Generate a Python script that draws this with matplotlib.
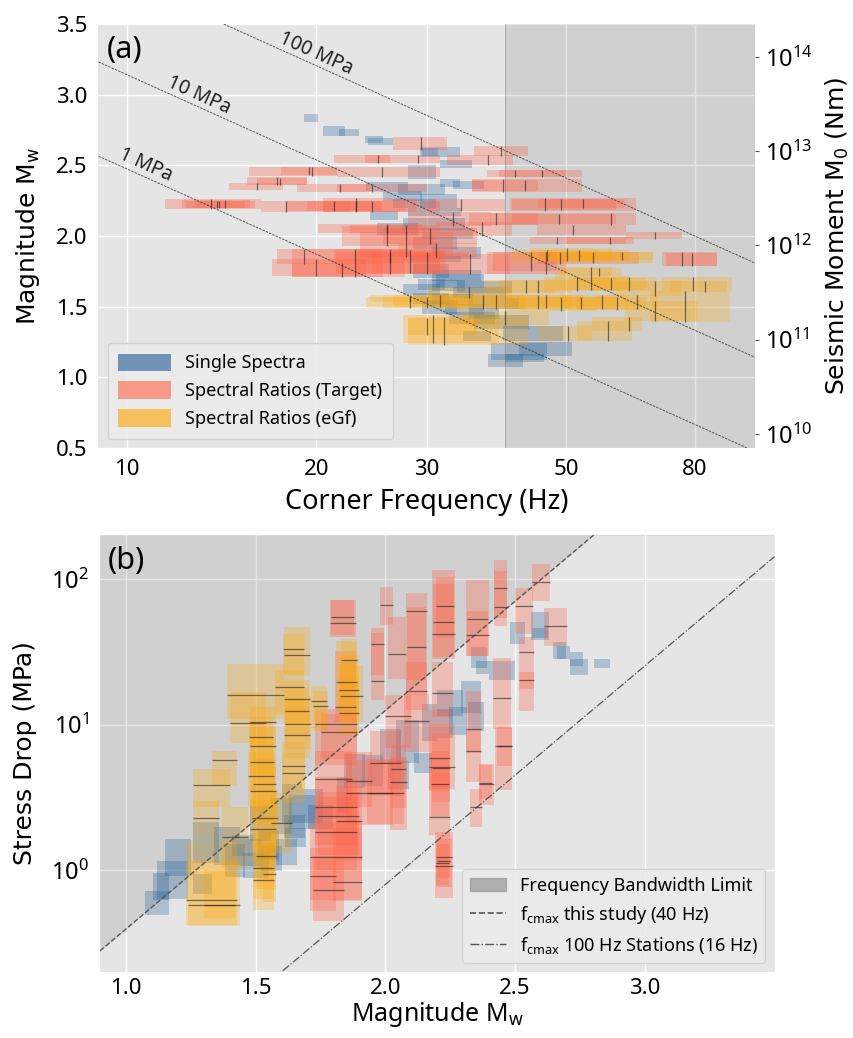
import numpy as np
import matplotlib
matplotlib.use("Agg")
import matplotlib.pyplot as plt
from matplotlib.patches import Patch
from matplotlib.lines import Line2D

# ---- Single spectra (blue): corner frequency best/low/high (Hz), Mw and Mw half-range
ss_fc = [19.6, 21.3, 22.5, 24.7, 25.3, 30.3, 33.4, 31.4, 32.6, 31.3, 27.5, 28.5, 29.5, 35.0,
         25.5, 31.0, 30.5, 32.0, 30.5, 31.0, 33.5, 30.5, 33.5, 30.5, 32.5, 37.0, 29.5, 30.5,
         33.0, 31.5, 34.5, 35.5, 39.5, 44.0, 36.5, 42.0, 46.0, 40.0, 43.0, 29.5,
         36.0, 38.0, 34.0, 27.0, 26.0, 37.0]
ss_fc_lo = [19.1, 20.5, 21.7, 23.9, 24.2, 29.5, 31.5, 29.2, 31.5, 29.2, 25.5, 26.5, 27.0, 33.0,
            24.3, 28.0, 27.5, 29.5, 28.5, 28.2, 30.5, 28.5, 30.5, 29.0, 30.5, 33.5, 27.5, 28.5,
            30.5, 29.5, 32.0, 32.5, 35.7, 39.7, 34.2, 38.0, 42.0, 37.5, 40.0, 28.0,
            33.0, 35.0, 31.0, 25.0, 24.0, 35.0]
ss_fc_hi = [20.1, 22.2, 23.4, 25.5, 26.5, 31.2, 35.4, 33.8, 33.8, 33.5, 29.5, 31.0, 32.0, 37.0,
            27.0, 34.0, 34.5, 35.5, 33.5, 34.0, 36.5, 32.5, 36.5, 32.0, 34.5, 41.0, 31.5, 32.5,
            35.5, 33.5, 37.0, 38.5, 43.6, 49.3, 38.0, 46.5, 51.0, 42.6, 46.0, 31.0,
            40.0, 42.0, 37.0, 29.0, 28.0, 39.0]
ss_mw = [2.835, 2.745, 2.735, 2.685, 2.67, 2.595, 2.51, 2.595, 2.375, 2.25, 2.28, 2.23, 2.33, 2.36,
         2.145, 2.17, 2.085, 2.02, 1.95, 1.835, 1.88, 1.75, 1.72, 1.655, 1.65, 1.64, 1.62, 1.56,
         1.55, 1.50, 1.48, 1.42, 1.39, 1.31, 1.295, 1.18, 1.20, 1.12, 1.135, 2.45,
         1.60, 1.52, 1.68, 2.05, 2.35, 1.45]
ss_mw_err = [0.03, 0.035, 0.025, 0.025, 0.025, 0.03, 0.03, 0.035, 0.025, 0.05, 0.035, 0.03, 0.04, 0.03,
             0.035, 0.03, 0.045, 0.04, 0.04, 0.02, 0.04, 0.05, 0.04, 0.04, 0.04, 0.04, 0.04, 0.04,
             0.04, 0.05, 0.04, 0.04, 0.05, 0.05, 0.035, 0.06, 0.05, 0.045, 0.03, 0.05,
             0.04, 0.04, 0.05, 0.04, 0.03, 0.04]

# ---- Spectral ratios, target events (red)
tg_fc = [29.4, 25.1, 29.0, 39.4, 37.5, 19.7, 19.5, 25.4, 17.3, 17.5, 16.1, 21.8, 24.5, 13.6,
         14.3, 13.9, 14.0, 17.9, 21.3, 23.1, 24.5, 25.9, 27.8, 19.1, 23.0, 26.2, 22.0, 41.4,
         45.8, 39.6, 43.0, 46.2, 49.1, 53.2, 58.9, 48.6, 38.7, 51.2, 48.3, 58.7, 69.3, 76.5,
         79.1, 48.8, 44.0, 46.4, 23.1, 25.9, 27.8, 30.3, 36.7, 26.2, 30.0, 35.1, 28.2, 33.0,
         34.0, 20.0, 31.0]
tg_fc_lo = [26.5, 21.3, 23.9, 35.7, 32.3, 15.6, 17.6, 21.6, 15.5, 16.1, 14.5, 18.6, 21.6, 11.5,
            12.2, 12.4, 12.8, 16.3, 17.9, 19.3, 20.5, 20.1, 22.6, 17.3, 18.3, 21.3, 18.3, 37.4,
            39.0, 35.4, 35.4, 40.6, 41.0, 45.0, 37.8, 41.0, 35.0, 44.9, 43.7, 50.0, 62.3, 71.1,
            72.0, 44.9, 38.2, 37.4, 20.5, 22.0, 23.5, 25.5, 31.0, 21.5, 24.5, 28.5, 23.0, 28.0,
            30.0, 17.0, 27.0]
tg_fc_hi = [32.3, 26.2, 31.5, 43.4, 41.1, 21.6, 21.6, 31.5, 19.3, 19.3, 17.7, 24.3, 30.0, 16.3,
            15.7, 15.4, 16.0, 22.6, 25.4, 27.7, 31.5, 29.5, 31.5, 25.4, 27.7, 31.5, 25.5, 53.0,
            50.0, 53.0, 45.0, 64.6, 60.0, 62.0, 64.6, 60.0, 45.0, 62.3, 62.3, 64.0, 76.3, 86.7,
            86.7, 65.3, 48.3, 50.1, 28.9, 31.0, 33.0, 36.0, 41.0, 31.5, 35.0, 40.6, 32.0, 38.0,
            40.0, 24.0, 36.0]
tg_mw = [2.655, 2.545, 2.545, 2.60, 2.535, 2.455, 2.46, 2.45, 2.39, 2.385, 2.35, 2.34, 2.34, 2.225,
         2.225, 2.22, 2.225, 2.21, 2.21, 2.215, 2.21, 2.05, 2.05, 1.855, 1.81, 1.86, 1.76, 2.445,
         2.445, 2.355, 2.355, 2.225, 2.225, 2.23, 2.12, 2.12, 2.12, 2.045, 1.97, 1.97, 2.005, 1.835,
         1.835, 1.845, 1.82, 1.81, 2.22, 2.00, 1.94, 2.00, 2.05, 1.81, 1.81, 1.80, 1.82, 2.12,
         2.22, 1.78, 1.90]
tg_mw_err = [0.045, 0.028, 0.028, 0.035, 0.035, 0.033, 0.03, 0.035, 0.03, 0.025, 0.022, 0.03, 0.03, 0.035,
             0.03, 0.025, 0.025, 0.04, 0.035, 0.035, 0.04, 0.032, 0.03, 0.055, 0.10, 0.05, 0.05, 0.025,
             0.025, 0.045, 0.04, 0.045, 0.04, 0.035, 0.04, 0.035, 0.04, 0.035, 0.025, 0.025, 0.025, 0.05,
             0.045, 0.04, 0.07, 0.08, 0.05, 0.07, 0.09, 0.06, 0.05, 0.08, 0.08, 0.07, 0.08, 0.05,
             0.04, 0.06, 0.05]

# ---- Spectral ratios, eGf events (yellow)
eg_fc = [46.5, 50.1, 52.3, 55.1, 61.4, 51.9, 54.7, 58.9, 62.8, 69.3, 79.4, 83.2, 77.1, 69.1,
         28.2, 30.0, 31.5, 36.8, 38.7, 45.0, 46.4, 49.1, 52.8, 56.9, 60.3, 64.8, 28.2, 30.7,
         31.9, 30.0, 58.3, 63.0, 50.3, 43.2, 45.0, 54.7, 56.3, 40.0, 35.0]
eg_fc_lo = [41.0, 43.7, 46.0, 48.0, 53.0, 46.0, 48.0, 51.0, 55.0, 60.0, 71.1, 73.0, 68.0, 62.0,
            24.0, 25.5, 26.5, 31.0, 33.0, 38.0, 40.0, 42.0, 45.0, 49.0, 52.0, 56.0, 24.3, 27.5,
            28.0, 28.0, 52.0, 55.0, 45.0, 37.0, 39.0, 48.0, 49.0, 34.0, 30.0]
eg_fc_hi = [56.0, 59.0, 63.0, 68.6, 68.6, 60.0, 63.0, 67.0, 69.6, 76.0, 91.7, 90.0, 91.0, 81.0,
            34.0, 36.0, 39.0, 43.0, 45.0, 51.0, 53.0, 56.0, 60.0, 63.0, 67.0, 70.0, 32.6, 39.0,
            43.5, 36.0, 63.5, 66.0, 55.0, 48.0, 51.0, 59.0, 61.0, 47.0, 41.0]
eg_mw = [1.86, 1.87, 1.86, 1.85, 1.86, 1.66, 1.665, 1.66, 1.66, 1.63, 1.66, 1.645, 1.50, 1.47,
         1.53, 1.53, 1.54, 1.53, 1.535, 1.53, 1.535, 1.52, 1.525, 1.53, 1.52, 1.53, 1.555, 1.34,
         1.33, 1.36, 1.33, 1.38, 1.31, 1.645, 1.645, 1.75, 1.745, 1.42, 1.60]
eg_mw_err = [0.04, 0.045, 0.04, 0.04, 0.03, 0.05, 0.05, 0.045, 0.05, 0.055, 0.05, 0.04, 0.11, 0.07,
             0.04, 0.04, 0.04, 0.05, 0.05, 0.05, 0.045, 0.05, 0.045, 0.05, 0.045, 0.05, 0.025, 0.10,
             0.10, 0.06, 0.07, 0.05, 0.05, 0.045, 0.045, 0.03, 0.03, 0.05, 0.04]

# reference lines
stress_levels = [1, 10, 100]          # MPa, panel (a)
stress_label_fc = [10.7, 13.0, 20.0]  # where the labels sit
fc_limit = 40.0                       # this study
fc_limit_100hz = 16.0                 # 100 Hz stations

K_BRUNE = 0.372
BETA = 3800.0

BLUE = "#1F5A96"
RED = "tomato"
YELLOW = "orange"


def moment(mw):
    return 10 ** (1.5 * np.asarray(mw, dtype=float) + 9.1)


def stress_drop(mw, fc):
    # Brune model, returns MPa
    return 7.0 / 16.0 * moment(mw) * (np.asarray(fc, dtype=float) / (K_BRUNE * BETA)) ** 3 / 1e6


def mw_for_stress(sd, fc):
    m0 = sd * 1e6 / (7.0 / 16.0 * (np.asarray(fc, dtype=float) / (K_BRUNE * BETA)) ** 3)
    return (np.log10(m0) - 9.1) / 1.5


plt.rcParams['font.family'] = ['Noto Sans', 'DejaVu Sans']
plt.rcParams['axes.facecolor'] = '#E5E5E5'
plt.rcParams['axes.edgecolor'] = 'none'
plt.rcParams['axes.axisbelow'] = True

W, H = 854, 1038
fig = plt.figure(figsize=(W / 100, H / 100), dpi=100)
ax_a = fig.add_axes([98.5 / W, 1 - 448 / H, 657 / W, 424 / H])
ax_b = fig.add_axes([100 / W, 1 - 972 / H, 674.5 / W, 437 / H])

groups = [
    (ss_fc, ss_fc_lo, ss_fc_hi, ss_mw, ss_mw_err, BLUE, 0.28, False),
    (tg_fc, tg_fc_lo, tg_fc_hi, tg_mw, tg_mw_err, RED, 0.3, True),
    (eg_fc, eg_fc_lo, eg_fc_hi, eg_mw, eg_mw_err, YELLOW, 0.25, True),
]

# ---------------- panel (a)
ax_a.set_xscale('log')
ax_a.set_xlim(9, 100)
ax_a.set_ylim(0.5, 3.5)
ax_a.axvspan(fc_limit, 100, color='gray', alpha=0.2, lw=0)
ax_a.axvline(fc_limit, color='gray', lw=0.6, alpha=0.6)

for fc, lo, hi, mw, err, col, alp, ticks in groups:
    lo = np.array(lo); hi = np.array(hi); mw = np.array(mw); err = np.array(err)
    ax_a.barh(mw, hi - lo, left=lo, height=2 * err, color=col, alpha=alp, lw=0)
    if ticks:
        ax_a.vlines(fc, mw - err, mw + err, colors='#222222', lw=0.9, alpha=0.6)

fc_line = np.geomspace(9, 100, 60)
for sd in stress_levels:
    ax_a.plot(fc_line, mw_for_stress(sd, fc_line), color='#333333', lw=0.7,
              ls=(0, (2.5, 1.2)), alpha=0.8)
ax_a.set_xticks([10, 20, 30, 50, 80])
ax_a.set_xticklabels(['10', '20', '30', '50', '80'])
ax_a.minorticks_off()
ax_a.set_yticks([0.5, 1.0, 1.5, 2.0, 2.5, 3.0, 3.5])
ax_a.grid(True, color='white', lw=1.0)
ax_a.tick_params(length=0, labelsize=16, pad=8)
ax_a.set_xlabel('Corner Frequency (Hz)', fontsize=19.5, labelpad=6)
ax_a.set_ylabel(r'Magnitude $\mathregular{M_w}$', fontsize=18, family='DejaVu Sans', labelpad=10)
ax_a.text(0.012, 0.975, '(a)', transform=ax_a.transAxes, fontsize=22, va='top', ha='left')

# labels along the constant stress-drop lines
for sd, fc_lab in zip(stress_levels, stress_label_fc):
    p1 = ax_a.transData.transform((fc_lab, mw_for_stress(sd, fc_lab)))
    p2 = ax_a.transData.transform((fc_lab * 1.5, mw_for_stress(sd, fc_lab * 1.5)))
    ang = np.degrees(np.arctan2(p2[1] - p1[1], p2[0] - p1[0]))
    ax_a.text(fc_lab, mw_for_stress(sd, fc_lab) + 0.085, f'{sd} MPa', rotation=ang,
              rotation_mode='anchor', ha='center', va='center', fontsize=14, color='#222222')

tw = ax_a.twinx()
tw.set_yscale('log')
tw.set_ylim(moment(0.5), moment(3.5))
tw.set_yticks([1e10, 1e11, 1e12, 1e13, 1e14])
tw.minorticks_off()
tw.grid(False)
tw.tick_params(length=3, labelsize=17, color='#555555')
tw.set_ylabel(r'Seismic Moment $\mathregular{M_0}$ (Nm)', fontsize=18, family='DejaVu Sans', labelpad=8)

ax_a.legend(
    handles=[Patch(facecolor=BLUE, alpha=0.6, label='Single Spectra'),
             Patch(facecolor=RED, alpha=0.6, label='Spectral Ratios (Target)'),
             Patch(facecolor=YELLOW, alpha=0.6, label='Spectral Ratios (eGf)')],
    loc='lower left', fontsize=13, handlelength=2.9, handleheight=1.1,
    facecolor='#EBEBEB', edgecolor='#D0D0D0', framealpha=0.9, borderpad=0.6)

# ---------------- panel (b)
ax_b.set_yscale('log')
ax_b.set_xlim(0.9, 3.5)
ax_b.set_ylim(0.2, 200)
mw_line = np.linspace(0.9, 3.5, 60)
sd_lim = stress_drop(mw_line, fc_limit)
ax_b.fill_between(mw_line, sd_lim, 200, color='gray', alpha=0.2, lw=0)
ax_b.plot(mw_line, sd_lim, color='#555555', lw=1.0, ls='--')
ax_b.plot(mw_line, stress_drop(mw_line, fc_limit_100hz), color='#555555', lw=0.9, ls='-.')

for fc, lo, hi, mw, err, col, alp, ticks in groups:
    mw = np.array(mw); err = np.array(err)
    sd_lo = stress_drop(mw, lo)
    sd_hi = stress_drop(mw, hi)
    ax_b.bar(mw, sd_hi - sd_lo, bottom=sd_lo, width=2 * err, color=col, alpha=alp, lw=0)
    if ticks:
        ax_b.hlines(stress_drop(mw, fc), mw - err, mw + err, colors='#222222', lw=0.9, alpha=0.6)

ax_b.set_xticks([1.0, 1.5, 2.0, 2.5, 3.0, 3.5])
ax_b.set_xticklabels(['1.0', '1.5', '2.0', '2.5', '3.0', ''])
ax_b.set_yticks([1, 10, 100])
ax_b.minorticks_off()
ax_b.grid(True, color='white', lw=1.0)
ax_b.tick_params(length=0, labelsize=16, pad=4)
ax_b.tick_params(axis='y', labelsize=17, pad=8)
ax_b.set_xlabel(r'Magnitude $\mathregular{M_w}$', fontsize=18, labelpad=1)
ax_b.set_ylabel('Stress Drop (MPa)', fontsize=18, family='DejaVu Sans', labelpad=10)
ax_b.text(0.012, 0.975, '(b)', transform=ax_b.transAxes, fontsize=22, va='top', ha='left')

ax_b.legend(
    handles=[Patch(facecolor='gray', edgecolor='#888888', alpha=0.55, label='Frequency Bandwidth Limit'),
             Line2D([], [], color='#555555', lw=1.2, ls='--', label=r'$\mathregular{f_{cmax}}$ this study (40 Hz)'),
             Line2D([], [], color='#555555', lw=1.0, ls='-.', label=r'$\mathregular{f_{cmax}}$ 100 Hz Stations (16 Hz)')],
    loc='lower right', fontsize=13, handlelength=2.0,
    facecolor='#EBEBEB', edgecolor='#D0D0D0', framealpha=0.9)

fig.savefig('out.png', dpi=100)
